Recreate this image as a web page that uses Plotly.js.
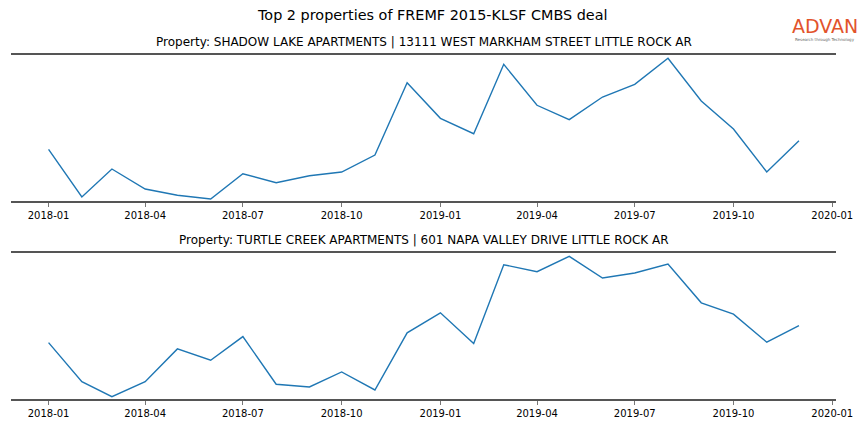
<!DOCTYPE html>
<html>
<head>
<meta charset="utf-8">
<script src="https://cdn.plot.ly/plotly-3.0.1.min.js"></script>
<style>html,body{margin:0;padding:0;background:#fff;}#chart{width:864px;height:432px;}</style>
</head>
<body>
<div id="chart"></div>
<script>
// Data (relative monthly index values)
const months = ['2018-01-01','2018-02-01','2018-03-01','2018-04-01','2018-05-01','2018-06-01',
  '2018-07-01','2018-08-01','2018-09-01','2018-10-01','2018-11-01','2018-12-01',
  '2019-01-01','2019-02-01','2019-03-01','2019-04-01','2019-05-01','2019-06-01',
  '2019-07-01','2019-08-01','2019-09-01','2019-10-01','2019-11-01','2019-12-01'];
const shadowLake = [51.7, 4, 32, 12, 5.7, 2, 27.3, 18.3, 25.3, 29, 46, 118.3,
  82.7, 67.3, 136.7, 95.7, 81.3, 104, 116.7, 142.7, 100, 72, 29, 60.3];
const turtleCreek = [56.3, 17.3, 2.3, 17.3, 50, 38.7, 62.3, 14.7, 12, 27, 9, 66,
  86, 55.3, 134, 127, 142.3, 120.7, 125.7, 134.7, 96, 84.7, 56.7, 73.3];
const mainTitle = 'Top 2 properties of FREMF 2015-KLSF CMBS deal';
const subTitles = ['Property: SHADOW LAKE APARTMENTS | 13111 WEST MARKHAM STREET LITTLE ROCK AR',
  'Property: TURTLE CREEK APARTMENTS | 601 NAPA VALLEY DRIVE LITTLE ROCK AR'];

const FONT = 'DejaVu Sans, sans-serif';
const lineStyle = {color: '#1f77b4', width: 1.4};
const traces = [
  {x: months, y: shadowLake, type: 'scatter', mode: 'lines', line: lineStyle, xaxis: 'x', yaxis: 'y', hoverinfo: 'skip'},
  {x: months, y: turtleCreek, type: 'scatter', mode: 'lines', line: lineStyle, xaxis: 'x2', yaxis: 'y2', hoverinfo: 'skip'}
];

function xax(anchor) {
  return {
    anchor: anchor, domain: [11/864, 836/864],
    type: 'date', range: ['2017-11-27', '2020-01-04 12:00'],
    tickformat: '%Y-%m', dtick: 'M3', tick0: '2018-01-01',
    ticks: 'outside', ticklen: 4, tickwidth: 1, tickcolor: '#777',
    showline: true, mirror: true, linecolor: '#555', linewidth: 2,
    showgrid: false, zeroline: false,
    tickfont: {family: FONT, size: 10, color: '#000'}
  };
}
function yax(anchor, dom) {
  return {anchor: anchor, domain: dom, range: [0, 146], showticklabels: false,
    showgrid: false, zeroline: false, showline: false, ticks: ''};
}

const layout = {
  width: 864, height: 432,
  margin: {l: 0, r: 0, t: 0, b: 0},
  paper_bgcolor: '#fff', plot_bgcolor: '#fff',
  showlegend: false,
  font: {family: FONT},
  xaxis: xax('y'),
  yaxis: yax('x', [1 - 201/432, 1 - 55/432]),
  xaxis2: xax('y2'),
  yaxis2: yax('x2', [1 - 399/432, 1 - 252.7/432]),
  annotations: [
    {text: mainTitle, xref: 'paper', yref: 'paper', x: 432/864, y: 1 - 15/432,
     xanchor: 'center', yanchor: 'middle', showarrow: false, font: {family: FONT, size: 14.4, color: '#000'}},
    {text: subTitles[0], xref: 'paper', yref: 'paper', x: 423.5/864, y: 1 - 42/432,
     xanchor: 'center', yanchor: 'middle', showarrow: false, font: {family: FONT, size: 12, color: '#000'}},
    {text: subTitles[1], xref: 'paper', yref: 'paper', x: 423.5/864, y: 1 - 240/432,
     xanchor: 'center', yanchor: 'middle', showarrow: false, font: {family: FONT, size: 12, color: '#000'}},
    {text: 'ADVAN', xref: 'paper', yref: 'paper', x: 824.5/864, y: 1 - 26.5/432,
     xanchor: 'center', yanchor: 'middle', showarrow: false, font: {family: FONT, size: 19, color: '#e2532b', weight: 500}},
    {text: 'Research through Technology', xref: 'paper', yref: 'paper', x: 824.5/864, y: 1 - 40/432,
     xanchor: 'center', yanchor: 'middle', showarrow: false, font: {family: FONT, size: 4, color: '#666'}}
  ]
};

Plotly.newPlot('chart', traces, layout, {staticPlot: true, displayModeBar: false});
</script>
</body>
</html>
